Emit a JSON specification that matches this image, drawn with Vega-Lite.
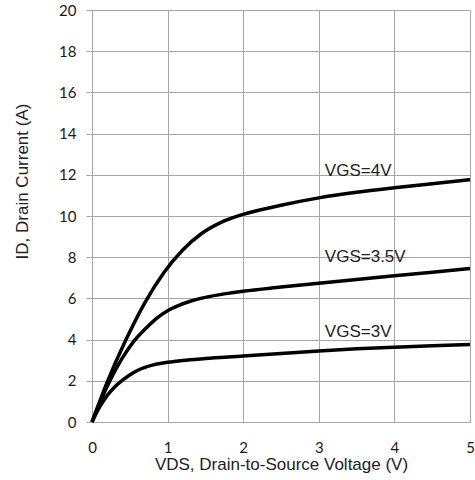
{
  "$schema": "https://vega.github.io/schema/vega-lite/v6.json",
  "autosize": {"type": "none"},
  "width": 378,
  "height": 412,
  "padding": {"left": 92, "top": 10, "right": 5, "bottom": 58},
  "background": "white",
  "config": {"view": {"stroke": null}},
  "datasets": {
    "curves": [
      {"vgs": "4V", "vds": 0, "id": 0}, {"vgs": "4V", "vds": 0.2, "id": 1.92}, {"vgs": "4V", "vds": 0.45, "id": 4.0}, {"vgs": "4V", "vds": 0.7, "id": 5.8}, {"vgs": "4V", "vds": 0.95, "id": 7.25}, {"vgs": "4V", "vds": 1.2, "id": 8.35}, {"vgs": "4V", "vds": 1.45, "id": 9.15}, {"vgs": "4V", "vds": 1.7, "id": 9.68}, {"vgs": "4V", "vds": 2, "id": 10.08}, {"vgs": "4V", "vds": 2.5, "id": 10.52}, {"vgs": "4V", "vds": 3, "id": 10.88}, {"vgs": "4V", "vds": 3.5, "id": 11.15}, {"vgs": "4V", "vds": 4, "id": 11.37}, {"vgs": "4V", "vds": 4.5, "id": 11.57}, {"vgs": "4V", "vds": 5, "id": 11.76},
      {"vgs": "3.5V", "vds": 0, "id": 0}, {"vgs": "3.5V", "vds": 0.1, "id": 0.9}, {"vgs": "3.5V", "vds": 0.25, "id": 2.1}, {"vgs": "3.5V", "vds": 0.4, "id": 3.1}, {"vgs": "3.5V", "vds": 0.55, "id": 3.9}, {"vgs": "3.5V", "vds": 0.7, "id": 4.5}, {"vgs": "3.5V", "vds": 0.85, "id": 5.02}, {"vgs": "3.5V", "vds": 1, "id": 5.4}, {"vgs": "3.5V", "vds": 1.15, "id": 5.66}, {"vgs": "3.5V", "vds": 1.3, "id": 5.86}, {"vgs": "3.5V", "vds": 1.5, "id": 6.05}, {"vgs": "3.5V", "vds": 1.75, "id": 6.22}, {"vgs": "3.5V", "vds": 2, "id": 6.35}, {"vgs": "3.5V", "vds": 2.5, "id": 6.55}, {"vgs": "3.5V", "vds": 3, "id": 6.74}, {"vgs": "3.5V", "vds": 3.5, "id": 6.92}, {"vgs": "3.5V", "vds": 4, "id": 7.1}, {"vgs": "3.5V", "vds": 4.5, "id": 7.27}, {"vgs": "3.5V", "vds": 5, "id": 7.45},
      {"vgs": "3V", "vds": 0, "id": 0}, {"vgs": "3V", "vds": 0.1, "id": 0.72}, {"vgs": "3V", "vds": 0.2, "id": 1.28}, {"vgs": "3V", "vds": 0.3, "id": 1.7}, {"vgs": "3V", "vds": 0.4, "id": 2.02}, {"vgs": "3V", "vds": 0.5, "id": 2.28}, {"vgs": "3V", "vds": 0.6, "id": 2.5}, {"vgs": "3V", "vds": 0.7, "id": 2.65}, {"vgs": "3V", "vds": 0.8, "id": 2.76}, {"vgs": "3V", "vds": 0.9, "id": 2.84}, {"vgs": "3V", "vds": 1, "id": 2.9}, {"vgs": "3V", "vds": 1.2, "id": 2.99}, {"vgs": "3V", "vds": 1.5, "id": 3.08}, {"vgs": "3V", "vds": 2, "id": 3.2}, {"vgs": "3V", "vds": 2.5, "id": 3.33}, {"vgs": "3V", "vds": 3, "id": 3.45}, {"vgs": "3V", "vds": 3.5, "id": 3.55}, {"vgs": "3V", "vds": 4, "id": 3.63}, {"vgs": "3V", "vds": 4.5, "id": 3.7}, {"vgs": "3V", "vds": 5, "id": 3.76}
    ],
    "labels": [
      {"label": "VGS=4V", "vds": 3.08, "id": 12.2},
      {"label": "VGS=3.5V", "vds": 3.08, "id": 8.0},
      {"label": "VGS=3V", "vds": 3.08, "id": 4.37}
    ]
  },
  "layer": [
    {
      "data": {"name": "curves"},
      "mark": {"type": "line", "color": "black", "strokeWidth": 3.5, "interpolate": "monotone"},
      "encoding": {
        "x": {
          "field": "vds", "type": "quantitative",
          "scale": {"domain": [0, 5], "nice": false},
          "axis": {
            "title": "VDS, Drain-to-Source Voltage (V)",
            "values": [0, 1, 2, 3, 4, 5], "format": "d",
            "grid": true, "gridColor": "#a6a6a6", "gridOpacity": 1, "gridWidth": 1,
            "domain": true, "domainColor": "#a6a6a6", "domainWidth": 1,
            "ticks": false, "labelPadding": 18,
            "labelFont": "Lato", "labelFontSize": 15, "labelColor": "#1a1a1a",
            "labelFlush": false,
            "titleFont": "Liberation Sans", "titleFontSize": 17, "titleFontWeight": "normal", "titleColor": "#222222", "titlePadding": 1
          }
        },
        "y": {
          "field": "id", "type": "quantitative",
          "scale": {"domain": [0, 20], "nice": false},
          "axis": {
            "title": "ID, Drain Current (A)",
            "values": [0, 2, 4, 6, 8, 10, 12, 14, 16, 18, 20],
            "grid": true, "gridColor": "#a6a6a6", "gridOpacity": 1, "gridWidth": 1,
            "domain": true, "domainColor": "#a6a6a6", "domainWidth": 1,
            "ticks": true, "tickSize": 6, "tickColor": "#a6a6a6", "tickWidth": 1,
            "labelPadding": 10,
            "labelFont": "Lato", "labelFontSize": 15, "labelColor": "#1a1a1a",
            "labelFlush": false,
            "titleFont": "Liberation Sans", "titleFontSize": 17, "titleFontWeight": "normal", "titleColor": "#222222",
            "titleX": -70, "titleY": 171, "titleAlign": "center", "titleBaseline": "middle", "titleAngle": -90
          }
        },
        "detail": {"field": "vgs", "type": "nominal"}
      }
    },
    {
      "data": {"name": "labels"},
      "mark": {"type": "text", "align": "left", "baseline": "middle", "font": "Liberation Sans", "fontSize": 17, "color": "#222222"},
      "encoding": {
        "x": {"field": "vds", "type": "quantitative"},
        "y": {"field": "id", "type": "quantitative"},
        "text": {"field": "label"}
      }
    }
  ]
}
